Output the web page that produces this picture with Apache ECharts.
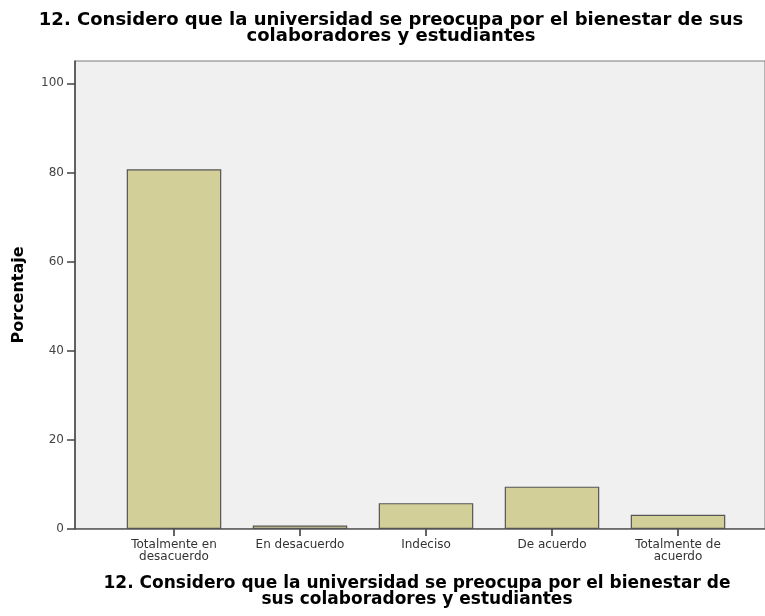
<!DOCTYPE html>
<html>
<head>
<meta charset="utf-8">
<script src="https://cdn.jsdelivr.net/npm/echarts@6/dist/echarts.min.js"></script>
<style>
  html, body { margin: 0; padding: 0; background: #fff; }
  #chart { width: 765px; height: 616px; }
</style>
</head>
<body>
<div id="chart"></div>
<script>
  // categorías y porcentajes
  var categories = ['Totalmente en\ndesacuerdo', 'En desacuerdo', 'Indeciso', 'De acuerdo', 'Totalmente de\nacuerdo']
  var percentages = [80.7, 0.8, 5.8, 9.5, 3.2]
  var yTicks = [0, 20, 40, 60, 80, 100]
  var titleText = '12. Considero que la universidad se preocupa por el bienestar de sus\ncolaboradores y estudiantes'
  var xAxisTitle = '12. Considero que la universidad se preocupa por el bienestar de\nsus colaboradores y estudiantes'

  var font = 'DejaVu Sans'
  var chart = echarts.init(document.getElementById('chart'))

  chart.setOption({
    animation: false,
    title: [
      {
        text: titleText,
        left: 386,
        textAlign: 'center',
        top: 7,
        textStyle: { fontFamily: font, fontWeight: 'bold', fontSize: 18, lineHeight: 16, color: '#000' }
      },
      {
        text: xAxisTitle,
        left: 412,
        textAlign: 'center',
        top: 571,
        textStyle: { fontFamily: font, fontWeight: 'bold', fontSize: 17, lineHeight: 16, color: '#000' }
      }
    ],
    grid: [
      // marco y fondo gris, eje Y
      { left: 75, right: -1, top: 61, bottom: 87, show: true, backgroundColor: '#f0f0f0', borderColor: '#7a7a7a', borderWidth: 1 },
      // barras
      { left: 111, right: 24, top: 61, bottom: 87 }
    ],
    xAxis: [
      { gridIndex: 0, type: 'value', min: 0, max: 1, show: false },
      {
        gridIndex: 1,
        type: 'category',
        data: categories,
        axisLine: { show: false },
        axisTick: { show: true, alignWithLabel: true, interval: 0, length: 7, lineStyle: { color: '#333', width: 1.5 } },
        axisLabel: { interval: 0, fontFamily: font, fontSize: 12, color: '#333', lineHeight: 12, margin: 10 }
      }
    ],
    yAxis: [
      {
        gridIndex: 0,
        type: 'value',
        min: 0,
        max: 105,
        name: 'Porcentaje',
        nameLocation: 'middle',
        nameGap: 48,
        nameTextStyle: { fontFamily: font, fontWeight: 'bold', fontSize: 16, color: '#000' },
        splitLine: { show: false },
        axisLine: { show: true, lineStyle: { color: '#444', width: 1.5 } },
        axisTick: { show: true, length: 8, customValues: yTicks, lineStyle: { color: '#444', width: 1.5 } },
        axisLabel: { customValues: yTicks, fontFamily: font, fontSize: 12, color: '#444', margin: 11 }
      },
      { gridIndex: 1, type: 'value', min: 0, max: 105, show: false }
    ],
    series: [
      {
        type: 'bar',
        xAxisIndex: 1,
        yAxisIndex: 1,
        data: percentages,
        barWidth: '75%',
        itemStyle: { color: '#d3cf98', borderColor: '#555', borderWidth: 1.2 }
      },
      {
        // línea base del eje X sobre el marco
        type: 'line',
        xAxisIndex: 0,
        yAxisIndex: 0,
        data: [[0, 0], [1, 0]],
        symbol: 'none',
        silent: true,
        lineStyle: { color: '#555', width: 1.5 }
      }
    ]
  })
</script>
</body>
</html>
